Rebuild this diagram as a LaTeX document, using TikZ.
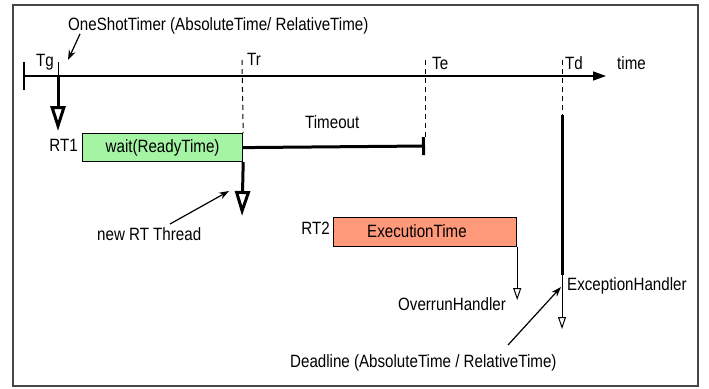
\documentclass[tikz,border=0pt]{standalone}
\usepackage{fontspec}
\setmainfont[FakeStretch=0.85]{Liberation Sans}
\usetikzlibrary{arrows.meta}
\definecolor{waitgreen}{RGB}{164,244,164}
\definecolor{execsalmon}{RGB}{255,153,122}
\definecolor{framegray}{RGB}{70,70,70}
\begin{document}
\begin{tikzpicture}[x=1pt,y=-1pt,
  lbl/.style={inner sep=0pt, anchor=base west, font=\fontsize{17.8}{20}\selectfont},
  lble/.style={lbl, anchor=base east},
  boxstyle/.style={draw, line width=1.2pt, inner sep=0pt, anchor=north west, font=\fontsize{17.8}{20}\selectfont},
  dashline/.style={line width=1pt, dash pattern=on 5pt off 4pt},
  thickarrow/.style={line width=3pt, -{Triangle[open,length=25pt,width=15pt]}},
  thinarrow/.style={line width=1pt, -{Triangle[open,length=12pt,width=8pt]}},
  pointer/.style={line width=1.2pt, -{Stealth[length=10pt,width=7pt]}}
]
\useasboundingbox (0,0) rectangle (709,388);
\draw[framegray, line width=1.5pt] (13,5) rectangle (698,386);

% time axis
\coordinate (axisL) at (24,76);
\coordinate (axisR) at (606,76);
\coordinate (tickT) at (24,62);
\coordinate (tickB) at (24,90);
\draw[line width=1.3pt, -{Triangle[length=13pt,width=9pt]}] (axisL) -- (axisR);
\draw[line width=1.3pt] (tickT) -- (tickB);
\node[lbl] (timelbl) at (617,69) {time};

% Tg
\coordinate (tgTop) at (58,62);
\coordinate (tgAx) at (58,76);
\coordinate (tgEnd) at (58,131);
\node[lbl] (tglbl) at (36,66) {Tg};
\draw[line width=1pt] (tgTop) -- (tgAx);
\draw[thickarrow] (tgAx) -- (tgEnd);
\node[lbl] (ostlbl) at (68,30.5) {OneShotTimer (AbsoluteTime/ RelativeTime)};
\coordinate (ostFrom) at (80,34);
\coordinate (ostTo) at (68,60);
\draw[pointer] (ostFrom) -- (ostTo);

% RT1 box
\node[boxstyle, fill=waitgreen, minimum width=160pt, minimum height=28pt] (wait) at (82,133) {wait(ReadyTime)};
\node[lble] (rt1) at (78,151) {RT1};

% Tr
\coordinate (trTop) at (242,60);
\node[lbl] (trlbl) at (247,65) {Tr};
\draw[dashline] (trTop) -- (wait.north east);
\coordinate (newEnd) at (242,216);
\draw[thickarrow] (wait.south east) -- (newEnd);
\node[lbl] (newlbl) at (97,240) {new RT Thread};
\coordinate (newFrom) at (170,224);
\coordinate (newTo) at (229,191);
\draw[pointer] (newFrom) -- (newTo);

% Te / Timeout
\coordinate (teTop) at (425,60);
\coordinate (teEnd) at (425,146);
\node[lbl] (telbl) at (432,69) {Te};
\draw[dashline] (teTop) -- (425,138);
\draw[line width=3pt, -{Bar[width=18pt]}] (wait.east) -- (teEnd);
\node[lbl] (tolbl) at (305,128) {Timeout};

% RT2 box
\node[boxstyle, fill=execsalmon, minimum width=183pt, minimum height=29pt] (exec) at (333,217) {};
\node[lbl] (exectxt) at (367,237) {ExecutionTime};
\node[lble] (rt2) at (330,234) {RT2};
\coordinate (ovEnd) at (exec.south east |- 0,300);
\draw[thinarrow] (exec.south east) -- (ovEnd);
\node[lbl] (ovlbl) at (398,310) {OverrunHandler};

% Td / deadline
\coordinate (tdTop) at (562,60);
\coordinate (tdA) at (562,115);
\coordinate (tdB) at (562,275);
\coordinate (tdEnd) at (562,329);
\node[lbl] (tdlbl) at (565,69) {Td};
\draw[dashline] (tdTop) -- (tdA);
\draw[line width=3pt] (tdA) -- (tdB);
\draw[thinarrow] (tdB) -- (tdEnd);
\node[lbl] (exlbl) at (567,290) {ExceptionHandler};
\node[lbl] (dllbl) at (290,367) {Deadline (AbsoluteTime / RelativeTime)};
\coordinate (dlFrom) at (508,345);
\coordinate (dlTo) at (561,287);
\draw[pointer] (dlFrom) -- (dlTo);
\end{tikzpicture}
\end{document}
